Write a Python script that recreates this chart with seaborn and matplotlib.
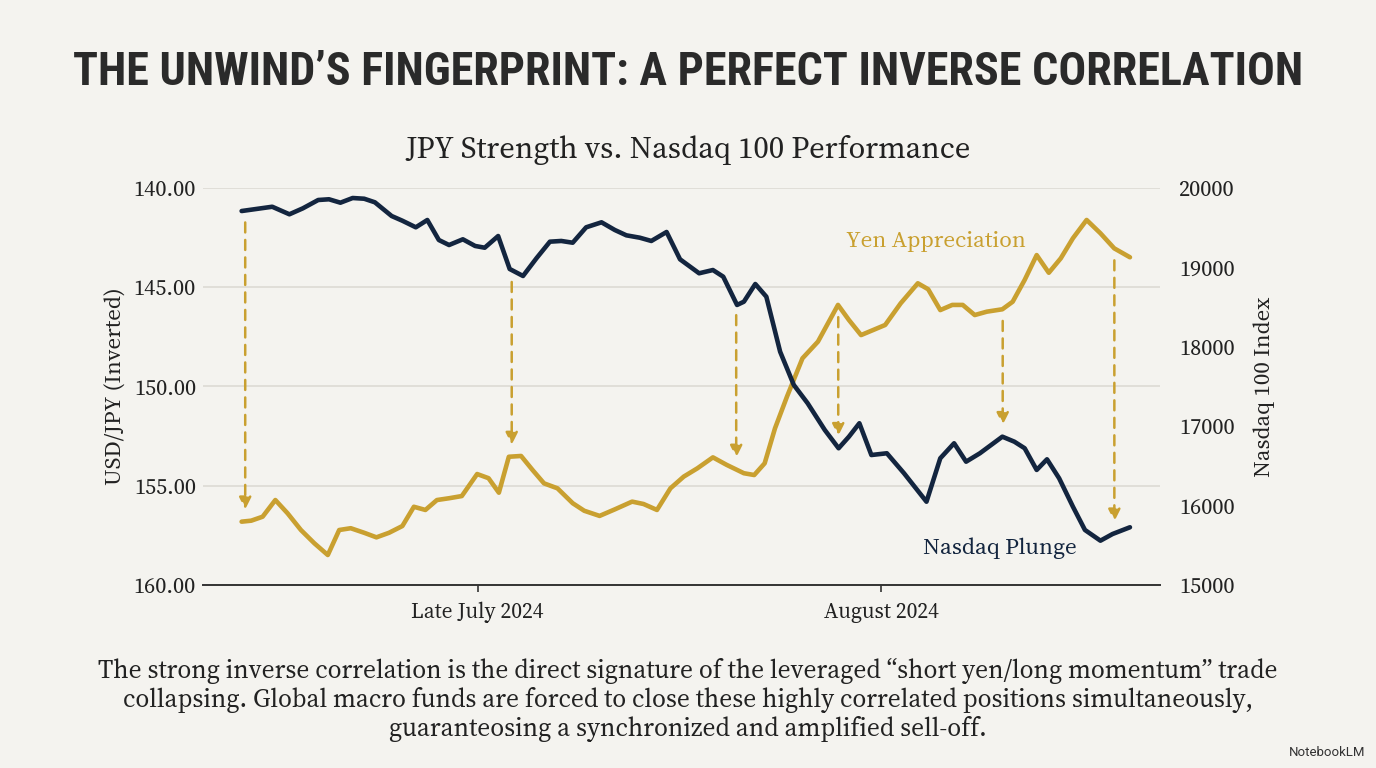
import numpy as np
import pandas as pd
import matplotlib
matplotlib.use("Agg")
import matplotlib.pyplot as plt
import seaborn as sns

# --- data (t = trading-session index) ---
yen_t = [0.0, 0.8, 1.75, 2.81, 3.83, 4.94, 6.06, 7.18, 8.13, 9.09, 10.21, 11.23, 12.28,
         13.39, 14.35, 15.31, 16.27, 17.28, 18.34, 19.62, 20.57, 21.43, 22.26, 23.28,
         24.24, 25.19, 26.31, 27.58, 28.54, 29.82, 31.09, 32.53, 33.48, 34.6, 35.72,
         36.83, 37.97, 39.26, 40.41, 41.84, 42.7, 43.57, 44.43, 45.43, 46.72, 48.01,
         49.68, 50.59, 51.6, 53.61, 54.9, 56.33, 57.19, 58.2, 59.2, 60.07, 61.07, 62.08,
         63.37, 64.23, 65.23, 66.23, 67.24, 68.24, 69.25, 70.39, 71.54, 72.69, 74.0]
usdjpy = [156.81, 156.76, 156.56, 155.72, 156.39, 157.23, 157.90, 158.49, 157.23, 157.14,
          157.37, 157.60, 157.37, 157.03, 156.06, 156.22, 155.72, 155.63, 155.52, 154.41,
          154.62, 155.35, 153.54, 153.50, 154.21, 154.88, 155.13, 155.88, 156.26, 156.52,
          156.19, 155.80, 155.92, 156.22, 155.13, 154.54, 154.12, 153.57, 153.95, 154.37,
          154.46, 153.87, 152.11, 150.51, 148.58, 147.74, 145.89, 146.65, 147.41, 146.90,
          145.81, 144.80, 145.10, 146.15, 145.89, 145.89, 146.40, 146.23, 146.11, 145.73,
          144.63, 143.38, 144.27, 143.54, 142.53, 141.61, 142.28, 143.04, 143.49]

nasdaq_t = [0.0, 2.55, 3.98, 5.1, 6.38, 7.28, 8.23, 9.25, 10.21, 11.1, 12.5, 13.39, 14.51,
            15.47, 16.43, 17.28, 18.43, 19.45, 20.25, 21.37, 22.33, 23.44, 24.56, 25.68,
            26.63, 27.58, 28.7, 29.98, 31.09, 32.05, 33.17, 34.13, 35.4, 36.52, 38.11,
            39.26, 40.12, 41.27, 41.84, 42.79, 43.71, 44.86, 46.0, 47.15, 48.58, 49.73,
            50.59, 51.46, 52.46, 53.75, 55.18, 57.05, 58.2, 59.35, 60.35, 61.5, 63.37,
            64.37, 65.23, 66.23, 67.09, 68.1, 69.25, 70.25, 71.54, 72.55, 74.0]
nasdaq = [19710, 19764, 19669, 19744, 19849, 19858, 19815, 19874, 19865, 19820, 19647,
          19588, 19505, 19597, 19345, 19282, 19354, 19270, 19248, 19395, 18980, 18892,
          19115, 19324, 19333, 19311, 19505, 19568, 19471, 19404, 19374, 19333, 19446,
          19102, 18926, 18967, 18883, 18527, 18568, 18791, 18631, 17938, 17519, 17289,
          16952, 16722, 16868, 17037, 16637, 16659, 16407, 16049, 16596, 16785, 16553,
          16659, 16868, 16805, 16722, 16449, 16583, 16344, 15986, 15693, 15558, 15642, 15727]

arrow_t = [0.3, 22.5, 41.2, 49.7, 63.4, 72.7]
xtick_t = [19.67, 53.3]
xtick_labels = ["Late July 2024", "August 2024"]
jpy_ticks = [140, 145, 150, 155, 160]
ndx_ticks = [15000, 16000, 17000, 18000, 19000, 20000]

yen_df = pd.DataFrame({"t": yen_t, "USD/JPY": usdjpy})
ndx_df = pd.DataFrame({"t": nasdaq_t, "Nasdaq": nasdaq})

BG = "#F4F3EF"
GOLD = "#C9A030"
NAVY = "#13253F"
INK = "#222222"
SERIF = ["Source Serif 4", "Source Serif Pro", "Noto Serif", "Liberation Serif", "DejaVu Serif"]
COND = ["Roboto Condensed", "Barlow Condensed", "IBM Plex Sans Condensed",
        "Open Sans Condensed", "DejaVu Sans"]

sns.set_theme(style="white")
plt.rcParams["font.family"] = SERIF
plt.rcParams["axes.facecolor"] = BG
plt.rcParams["figure.facecolor"] = BG

fig = plt.figure(figsize=(13.76, 7.68), dpi=100)
ax = fig.add_axes([0.1475, 0.2383, 0.6955, 0.5169])
ax2 = ax.twinx()

sns.lineplot(data=yen_df, x="t", y="USD/JPY", ax=ax, color=GOLD, lw=3.3,
             solid_joinstyle="round", solid_capstyle="round")
sns.lineplot(data=ndx_df, x="t", y="Nasdaq", ax=ax2, color=NAVY, lw=3.3,
             solid_joinstyle="round", solid_capstyle="round")

ax.set_xlim(-3.22, 76.5)
ax.set_ylim(160, 140)
ax2.set_ylim(15000, 20000)

# dashed arrows from the upper line down to the lower one
def ndx_on_left(v):
    return 140 + (20000 - v) / 250.0

for t in arrow_t:
    g = np.interp(t, yen_t, usdjpy)
    n = ndx_on_left(np.interp(t, nasdaq_t, nasdaq))
    top, bot = min(g, n), max(g, n)
    ax.annotate("", xy=(t, bot - 0.6), xytext=(t, top + 0.6),
                arrowprops=dict(arrowstyle="-|>", color=GOLD, lw=1.8,
                                linestyle=(0, (4, 3)), mutation_scale=18,
                                shrinkA=0, shrinkB=0),
                zorder=1)

# axes styling
ax.set_yticks(jpy_ticks)
ax.set_yticklabels([f"{v:.2f}" for v in jpy_ticks])
ax2.set_yticks(ndx_ticks)
ax2.set_yticklabels([str(v) for v in ndx_ticks])
ax.set_xticks(xtick_t)
ax.set_xticklabels(xtick_labels)
ax.grid(axis="y", color="#DCDAD4", lw=1.2)
ax.grid(axis="x", visible=False)
ax2.grid(False)
for a in (ax, ax2):
    for s in ("top", "left", "right", "bottom"):
        a.spines[s].set_visible(False)
ax.spines["bottom"].set_visible(True)
ax.spines["bottom"].set_color("#333333")
ax.spines["bottom"].set_linewidth(1.4)

ax.tick_params(axis="y", length=0, pad=5, labelsize=16, labelcolor=INK)
ax.tick_params(axis="x", length=5, width=1.2, color="#333333", direction="out",
               pad=7, labelsize=15.5, labelcolor=INK, bottom=True)
ax2.tick_params(axis="y", length=0, pad=14, labelsize=16, labelcolor=INK)

ax.set_xlabel("")
ax.set_ylabel("USD/JPY (Inverted)", fontsize=16.5, color=INK, labelpad=5)
ax2.set_ylabel("Nasdaq 100 Index", fontsize=16.5, color=INK, labelpad=13,
               rotation=90)

ax.text(57.8, 142.7, "Yen Appreciation", color=GOLD, fontsize=16.6,
        ha="center", va="center")
ax2.text(63.2, 15466, "Nasdaq Plunge", color=NAVY, fontsize=16.7,
         ha="center", va="center")

# titles and caption
fig.text(0.5, 1 - 72 / 768, "THE UNWIND\u2019S FINGERPRINT: A PERFECT INVERSE CORRELATION",
         ha="center", va="center", fontsize=33.2, fontweight="bold", color="#2A2A2A",
         family=COND)
fig.text(0.5, 1 - 150 / 768, "JPY Strength vs. Nasdaq 100 Performance",
         ha="center", va="center", fontsize=22, color=INK)
caption = ("The strong inverse correlation is the direct signature of the leveraged "
           "\u201cshort yen/long momentum\u201d trade\n"
           "collapsing. Global macro funds are forced to close these highly correlated "
           "positions simultaneously,\n"
           "guaranteosing a synchronized and amplified sell-off.")
fig.text(0.5, 1 - 700 / 768, caption, ha="center", va="center", fontsize=18.3,
         color=INK, linespacing=1.17)
fig.text(0.992, 1 - 752 / 768, "NotebookLM", ha="right", va="center", fontsize=9.5,
         color="#333333", family=["Roboto", "DejaVu Sans"])

fig.savefig("out.png", dpi=100, facecolor=BG)
